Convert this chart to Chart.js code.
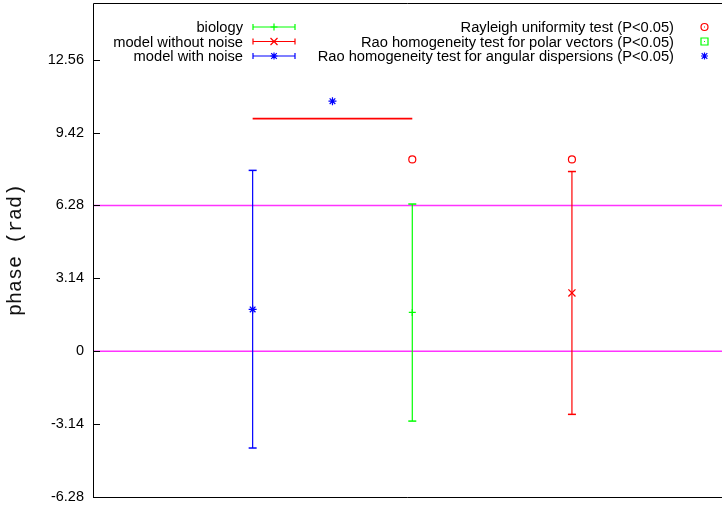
<!DOCTYPE html>
<html>
<head>
<meta charset="utf-8">
<script src="https://cdn.jsdelivr.net/npm/chart.js@4.4.0/dist/chart.umd.min.js"></script>
<style>
  body { margin: 0; background: #fff; }
  canvas { display: block; }
</style>
</head>
<body>
<canvas id="phaseChart" width="722" height="508"></canvas>
<script>
// series (error bars: mean with low/high)
const seriesNames = ['biology', 'model without noise', 'model with noise'];
const seriesX = [2, 3, 1];
const seriesMid = [1.67, 2.51, 1.80];
const seriesLow = [-3.01, -2.72, -4.17];
const seriesHigh = [6.34, 7.74, 7.79];

// significance markers
const testNames = [
  'Rayleigh uniformity test (P<0.05)',
  'Rao homogeneity test for polar vectors (P<0.05)',
  'Rao homogeneity test for angular dispersions (P<0.05)'
];
const rayleighX = [2, 3];
const rayleighY = [8.26, 8.26];
const raoPolarX = [];
const raoPolarY = [];
const raoAngX = [1.5];
const raoAngY = [10.77];
const bracketX = [1, 2];
const bracketY = [10.02, 10.02];

// axis
const refLines = [0, 6.28];
const yTicks = [-6.28, -3.14, 0, 3.14, 6.28, 9.42, 12.56];
const yTickLabels = ['-6.28', '-3.14', '0', '3.14', '6.28', '9.42', '12.56'];
const xMin = 0, xMax = 3.94;
const yMin = -6.28, yMax = 15;

const seriesColors = ['#00ff00', '#ff0000', '#0000ff'];
const seriesMarks = ['plus', 'cross', 'star'];
const testColors = ['#ff0000', '#00ff00', '#0000ff'];
const testMarks = ['circle', 'square', 'star'];
const chartStyle = { 'plus': 'cross', 'cross': 'crossRot', 'star': 'star', 'circle': 'circle', 'square': 'rect' };
const markRadius = { 'plus': 3.5, 'cross': 5, 'star': 4, 'circle': 3.5, 'square': 3.5 };

const datasets = [];

refLines.forEach(v => {
  datasets.push({
    data: [{ x: xMin, y: v }, { x: xMax, y: v }],
    showLine: true, borderColor: '#ff33ff', borderWidth: 1.5,
    pointRadius: 0, order: 10
  });
});

seriesNames.forEach((name, i) => {
  datasets.push({
    label: name,
    data: [{ x: seriesX[i], y: seriesLow[i] }, { x: seriesX[i], y: seriesHigh[i] }],
    showLine: true, borderColor: seriesColors[i], borderWidth: 1.2,
    pointStyle: 'line', pointRadius: 4, pointBorderColor: seriesColors[i],
    pointBorderWidth: 1.5, order: 5
  });
  datasets.push({
    data: [{ x: seriesX[i], y: seriesMid[i] }],
    pointStyle: chartStyle[seriesMarks[i]], pointRadius: markRadius[seriesMarks[i]],
    pointBorderColor: seriesColors[i], pointBorderWidth: 1.3, order: 1
  });
});

datasets.push({
  data: bracketX.map((x, i) => ({ x: x, y: bracketY[i] })),
  showLine: true, borderColor: '#ff0000', borderWidth: 1.6, pointRadius: 0, order: 3
});

[[rayleighX, rayleighY], [raoPolarX, raoPolarY], [raoAngX, raoAngY]].forEach((pts, i) => {
  datasets.push({
    data: pts[0].map((x, j) => ({ x: x, y: pts[1][j] })),
    pointStyle: chartStyle[testMarks[i]], pointRadius: markRadius[testMarks[i]],
    pointBorderColor: testColors[i], pointBackgroundColor: 'rgba(0,0,0,0)',
    pointBorderWidth: 1.2, order: 1
  });
});

function drawMark(ctx, mark, x, y, color) {
  const r = 3.5;
  ctx.save();
  ctx.strokeStyle = color;
  ctx.fillStyle = color;
  ctx.lineWidth = 1.2;
  ctx.beginPath();
  if (mark === 'plus' || mark === 'star') {
    ctx.moveTo(x - r, y); ctx.lineTo(x + r, y);
    ctx.moveTo(x, y - r); ctx.lineTo(x, y + r);
  }
  if (mark === 'cross' || mark === 'star') {
    const d = mark === 'star' ? 2.8 : 3.5;
    ctx.moveTo(x - d, y - d); ctx.lineTo(x + d, y + d);
    ctx.moveTo(x - d, y + d); ctx.lineTo(x + d, y - d);
  }
  if (mark === 'circle') {
    ctx.arc(x, y, r, 0, Math.PI * 2);
  }
  if (mark === 'square') {
    ctx.rect(x - r, y - r, r * 2, r * 2);
  }
  ctx.stroke();
  if (mark === 'circle' || mark === 'square') {
    ctx.fillRect(x - 0.5, y - 0.5, 1, 1);
  }
  ctx.restore();
}

const frameAndLegend = {
  id: 'frameAndLegend',
  afterDraw(chart) {
    const ctx = chart.ctx;
    const a = chart.chartArea;
    const ys = chart.scales.y;
    ctx.save();
    // frame: top, left, bottom
    ctx.strokeStyle = '#000';
    ctx.lineWidth = 1;
    ctx.beginPath();
    ctx.moveTo(a.right, a.top + 0.5); ctx.lineTo(a.left + 0.5, a.top + 0.5);
    ctx.lineTo(a.left + 0.5, a.bottom + 0.5); ctx.lineTo(a.right, a.bottom + 0.5);
    ctx.stroke();
    // inward ticks
    ctx.beginPath();
    yTicks.forEach(v => {
      const py = Math.round(ys.getPixelForValue(v)) + 0.5;
      ctx.moveTo(a.left, py); ctx.lineTo(a.left + 7, py);
    });
    ctx.stroke();

    // legends
    ctx.font = '14.7px "Liberation Sans", Arial, sans-serif';
    ctx.textAlign = 'right';
    ctx.textBaseline = 'middle';
    const rows = [27, 41.5, 56];
    seriesNames.forEach((name, i) => {
      const y = rows[i];
      ctx.fillStyle = '#000';
      ctx.fillText(name, 243, y + 1);
      ctx.strokeStyle = seriesColors[i];
      ctx.lineWidth = 1.2;
      ctx.beginPath();
      ctx.moveTo(253, y); ctx.lineTo(295, y);
      ctx.moveTo(253, y - 3); ctx.lineTo(253, y + 3);
      ctx.moveTo(295, y - 3); ctx.lineTo(295, y + 3);
      ctx.stroke();
      drawMark(ctx, seriesMarks[i], 274, y, seriesColors[i]);
    });
    testNames.forEach((name, i) => {
      const y = rows[i];
      ctx.fillStyle = '#000';
      ctx.fillText(name, 674, y + 1);
      drawMark(ctx, testMarks[i], 704.5, y, testColors[i]);
    });
    ctx.restore();
  }
};

new Chart(document.getElementById('phaseChart'), {
  type: 'scatter',
  data: { datasets: datasets },
  options: {
    responsive: false,
    animation: false,
    devicePixelRatio: 1,
    layout: { autoPadding: false, padding: { top: 3, bottom: 11, left: 0, right: 0 } },
    plugins: { legend: { display: false }, tooltip: { enabled: false } },
    scales: {
      x: { type: 'linear', min: xMin, max: xMax, display: false },
      y: {
        type: 'linear', min: yMin, max: yMax,
        afterBuildTicks: scale => { scale.ticks = yTicks.map(v => ({ value: v })); },
        afterFit: scale => { scale.width = 93; scale.paddingTop = 0; scale.paddingBottom = 0; },
        grid: { display: false, drawTicks: false },
        border: { display: false },
        ticks: {
          padding: 9,
          color: '#000',
          font: { family: '"Liberation Sans", Arial, sans-serif', size: 14.5 },
          callback: v => yTickLabels[yTicks.indexOf(v)]
        },
        title: {
          display: true, text: 'phase (rad)', color: '#111',
          font: { family: '"Liberation Mono", "Courier New", monospace', size: 20 },
          padding: { top: 4, bottom: 0 }
        }
      }
    }
  },
  plugins: [frameAndLegend]
});
</script>
</body>
</html>
